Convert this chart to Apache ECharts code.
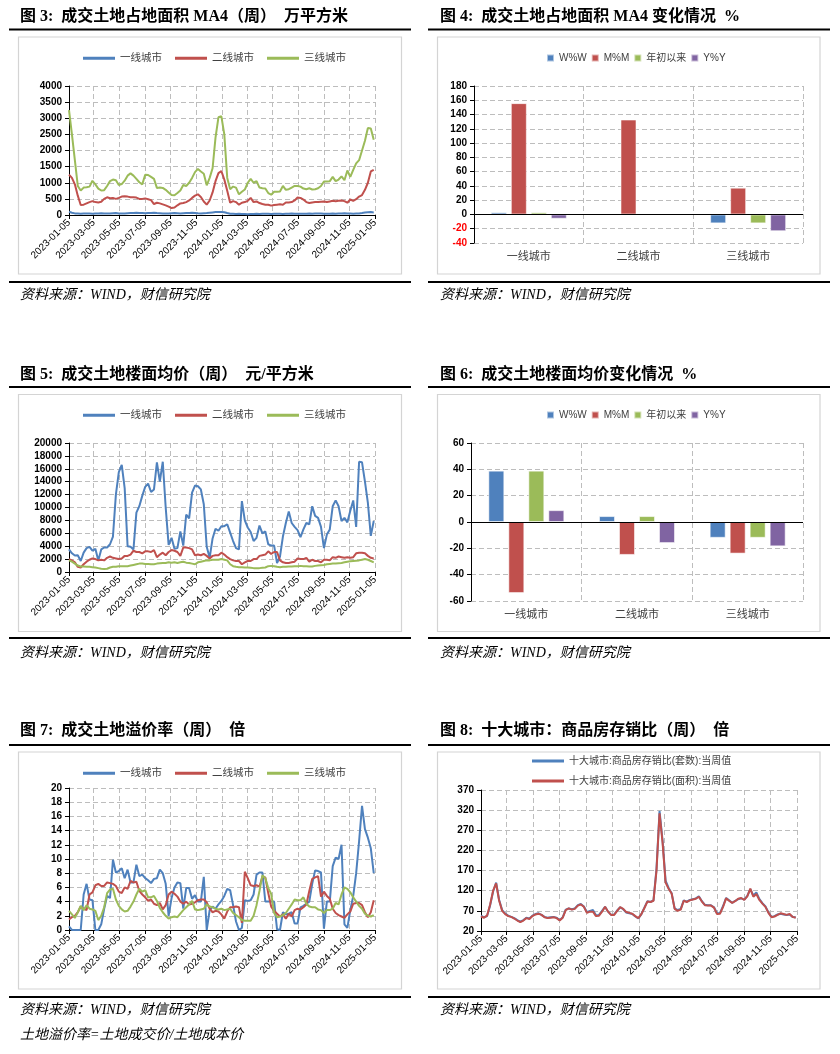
<!DOCTYPE html>
<html><head><meta charset="utf-8">
<script src="https://cdn.jsdelivr.net/npm/echarts@6/dist/echarts.min.js"></script>
<style>html,body{margin:0;padding:0;background:#fff}#c{width:840px;height:1054px}</style>
</head><body><div id="c"></div>
<script>
// ---------- data ----------
const tickDates = ['2023-01-05','2023-03-05','2023-05-05','2023-07-05','2023-09-05','2023-11-05','2024-01-05','2024-03-05','2024-05-05','2024-07-05','2024-09-05','2024-11-05','2025-01-05'];
const weekStart = '2023-01-05';
const cities = ['一线城市','二线城市','三线城市'];
const lineNames = ['一线城市','二线城市','三线城市'];
const barNames = ['W%W','M%M','年初以来','Y%Y'];
const stockNames = ['十大城市:商品房存销比(套数):当周值','十大城市:商品房存销比(面积):当周值'];

// Fig 3: land area MA4 (10k m2)
const area1 = [100,70,50,45,40,45,50,45,40,45, 50,55,50,45,50,55,60,50,45,50, 55,60,65,70,65,60,55,60,65,70, 60,55,50,45,50,55,60,55,50,55, 60,65,70,65,55,50,55,60,70,80, 90,95,95,85,60,40,35,30,35,30, 30,25,30,30,35,30,35,40,35,30, 35,40,35,30,35,40,45,40,35,40, 35,40,45,40,45,50,45,40,35,40, 45,40,45,50,55,50,45,40,45,50, 60,75,85,90,80];
const area2 = [1250,1150,950,600,310,320,360,400,430,400, 390,410,500,550,520,525,500,530,570,580, 570,550,550,540,500,500,515,490,460,340, 380,360,330,300,260,215,230,300,360,370, 400,450,530,600,640,560,420,320,450,700, 1050,1300,1360,1100,750,380,430,400,320,380, 400,440,530,400,420,370,340,320,320,290, 310,320,330,320,390,390,400,450,540,530, 480,400,370,390,400,400,410,420,400,420, 440,430,440,450,430,380,480,440,490,570, 620,780,1000,1350,1400];
const area3 = [3250,2500,1700,900,760,850,860,880,1060,950, 820,760,770,900,1050,1100,1080,930,960,1065, 1220,1290,1220,1120,1015,950,1250,1240,1180,1120, 840,850,840,780,700,620,610,680,760,930, 900,1000,1150,1330,1430,1350,1280,920,1150,1450, 2400,3030,3060,2500,1150,800,880,850,640,720, 790,1000,1120,1000,1050,850,830,820,680,630, 720,720,730,900,780,800,850,900,900,880, 820,800,830,790,800,830,900,1040,1040,1050, 1180,1050,1100,1200,1080,1380,1180,1400,1600,1700, 2000,2300,2700,2680,2330];

// Fig 4: area change (%)
const areaWoW = [3,-1.5,-12.5];
const areaMoM = [156,133,37.5];
const areaYTD = [3,-1.5,-12.5];
const areaYoY = [-6,1,-23.5];

// Fig 5: floor price (yuan/m2)
const price1 = [3500,2900,2550,2600,1700,3000,3700,3900,3300,3600, 1800,3500,3800,3800,4300,5500,12000,15500,16600,13000, 4000,3900,3500,9200,10200,11800,13200,13700,12400,12800, 17000,14000,17100,10000,4200,5300,3600,3700,6300,4100, 8900,8300,12300,13400,13300,12800,10500,3900,2200,5200, 6700,6400,7100,7100,7400,6100,4800,3700,3500,11000, 8000,6900,6200,4800,5300,7200,6000,6300,4300,4100, 4100,1400,2400,5500,7600,9400,7600,7000,6500,5400, 6600,7600,7400,10200,8700,8400,7000,3700,5800,6600, 10200,11100,10200,7900,8400,7700,9500,11100,7000,17100, 17000,14000,10700,5600,7900];
const price2 = [2000,1800,1500,800,700,1200,1600,1900,2100,2000, 1800,1900,1800,2200,2400,2200,2100,2000,2100,2500, 2500,2700,3300,3100,3100,2900,3200,3200,3100,3400, 2300,2700,3000,2600,3100,3400,3300,3100,2500,3800, 3800,3700,3500,2600,2700,2600,2800,2500,2100,2500, 2600,2600,3000,2700,2300,2000,1800,1700,1700,1200, 1500,1700,1700,2000,2000,2500,2600,2700,3200,2800, 3100,3100,1800,1500,1400,1400,1500,1600,2100,2000, 2000,2200,1600,1900,1700,1700,1500,1900,1900,1800, 2300,2200,2400,2300,2200,2300,2200,2300,2900,3000, 3000,2900,2500,2200,2100];
const price3 = [1800,1600,1300,1000,850,850,800,800,750,700, 600,500,450,500,700,800,800,900,900,900, 900,1000,1100,1200,1300,1300,1250,1250,1200,1200, 1300,1350,1400,1400,1500,1450,1500,1400,1500,1600, 1450,1400,1300,1200,1500,1600,1700,1800,1800,1900, 1900,1900,2000,1900,1800,1200,900,800,750,750, 700,700,650,600,600,600,650,700,900,950, 900,800,750,800,800,850,850,900,900,950, 900,900,850,850,950,1000,1050,1100,1200,1250, 1300,1300,1350,1400,1500,1600,1650,1700,1750,1800, 1900,2000,1900,1700,1500];

// Fig 6: price change (%)
const priceWoW = [39,4.5,-12];
const priceMoM = [-54,-25,-24];
const priceYTD = [39,4.5,-12];
const priceYoY = [9,-16,-18.5];

// Fig 7: premium rate
const prem1 = [0.5,0,0,0,0,5.0,6.5,4.3,4.2,0, 0,0.8,3.0,4.8,4.5,9.9,8.1,8.3,8.7,7.3, 8.5,6.7,6.7,9.2,7.6,7.8,7.3,7.0,6.6,7.2, 7.3,8.5,8.0,6.5,2.0,4.5,6.0,6.7,6.6,3.0, 5.9,5.9,4.4,4.9,4.0,4.0,7.5,0,2.8,3.3, 3.0,3.6,4.1,4.8,5.8,5.6,3.5,1.2,0,0.3, 4.2,4.1,4.2,5.0,7.8,8.1,8.1,4.0,4.0,4.0, 4.0,0.1,0,2.5,2.2,2.3,2.5,0.9,0.9,3.2, 3.4,3.7,4.0,6.5,8.4,8.3,8.1,0.2,4.0,4.0, 9.0,10.2,10.0,12.0,0.8,0.3,2.8,4.8,8.0,12.5, 17.5,14.2,13.0,11.5,8.0];
const prem2 = [1.5,1.8,2.0,2.5,3.3,3.0,2.8,5.0,5.3,6.3, 6.5,6.2,6.2,6.7,6.6,6.5,6.2,5.4,5.2,6.0, 5.8,6.9,6.7,6.8,5.5,5.0,4.6,4.1,4.3,3.7, 3.5,3.8,2.9,3.5,5.0,5.4,5.1,4.7,4.0,3.7, 4.0,3.6,3.7,3.9,4.2,4.3,4.3,3.9,3.0,2.5, 2.7,2.6,2.2,1.6,2.6,3.2,3.2,3.3,3.2,1.0, 8.2,7.3,6.3,6.2,6.3,6.1,7.5,7.4,5.2,3.3, 2.7,2.3,1.9,2.2,1.6,2.3,1.9,2.8,3.0,2.9, 3.2,3.6,5.5,7.2,7.4,7.6,4.7,5.4,4.8,4.4, 3.0,2.4,2.1,1.9,1.7,2.2,2.6,3.7,3.8,3.8, 3.5,2.5,1.8,2.5,4.2];
const prem3 = [2.7,2.2,1.7,2.5,3.4,2.8,3.5,3.0,2.9,2.7, 1.4,2.0,3.2,5.2,5.7,5.8,4.3,3.4,2.9,2.6, 2.7,3.3,4.0,5.0,5.8,5.4,5.6,4.6,4.6,4.8, 4.1,3.1,2.5,2.0,1.6,1.8,1.9,1.8,2.3,2.8, 3.2,3.6,4.1,2.9,2.8,2.9,3.0,3.6,3.3,3.2, 3.0,2.9,3.0,2.8,2.9,3.0,2.4,2.1,1.8,1.4, 1.3,1.3,1.3,2.0,3.5,5.5,7.7,7.3,5.9,5.1, 2.4,1.8,1.9,2.1,2.4,3.0,3.6,4.3,4.2,4.2, 4.6,3.7,3.3,3.2,3.2,2.9,2.8,2.4,2.8,2.8, 3.0,3.8,3.6,5.0,6.0,5.8,5.3,4.6,4.0,3.4, 3.0,2.3,2.0,1.9,2.1];

// Fig 8: inventory-to-sales ratio
const stockUnits = [58,54,57,83,118,140,97,72,63,58, 55,52,47,43,47,53,51,58,62,64, 60,55,53,54,55,53,47,54,73,76, 74,76,84,87,81,67,70,72,59,60, 70,80,68,60,61,71,79,74,66,64, 62,56,51,62,78,94,92,96,175,318, 245,145,127,114,76,72,75,96,93,97, 99,101,106,94,85,84,84,79,64,65, 82,102,96,90,95,99,101,98,107,124, 108,116,99,89,81,66,55,57,61,63, 61,60,61,55,54];
const stockArea = [56,53,58,85,120,138,95,70,62,57, 55,51,46,42,46,52,50,57,61,63, 60,54,52,53,54,52,46,53,72,76, 73,75,83,86,80,65,68,68,57,58, 68,80,68,60,60,70,79,75,67,65, 63,57,52,62,77,93,92,95,170,312, 240,140,125,113,75,70,73,95,92,96, 98,100,105,93,84,83,83,78,62,63, 80,101,95,90,94,100,102,97,106,125, 105,112,97,88,80,65,54,56,60,64, 62,60,62,55,53];

// ---------- helpers ----------
const BLUE='#4F81BD', RED='#C0504D', GREEN='#9BBB59', PURPLE='#8064A2';
const GRIDC='#BDBDBD';
function ts(s){const p=s.split('-').map(Number);return Date.UTC(p[0],p[1]-1,p[2]);}
const t0=ts(weekStart), WEEK=7*86400000;
function pairs(arr){return arr.map((v,i)=>[t0+i*WEEK,v]);}
const tickVals=tickDates.map(ts);
function pad(n){return (n<10?'0':'')+n;}
function fmtDate(v){const d=new Date(Number(v));return d.getUTCFullYear()+'-'+pad(d.getUTCMonth()+1)+'-'+pad(d.getUTCDate());}
const NUMFONT='"Liberation Sans", Arial, sans-serif';
const CJK='"Liberation Sans", "Noto Sans CJK SC", sans-serif';
const dash={color:GRIDC,type:[5,3],width:1};

function timeX(g){return {type:'value',gridIndex:g,min:tickVals[0],max:tickVals[tickVals.length-1],
  axisLine:{show:true,onZero:false,lineStyle:{color:'#000',width:1}},
  axisTick:{show:true,customValues:tickVals,length:4,lineStyle:{color:'#000'}},
  axisLabel:{customValues:tickVals,rotate:45,formatter:fmtDate,fontSize:10,color:'#000',margin:6,fontFamily:NUMFONT,hideOverlap:false},
  splitLine:{show:true,lineStyle:dash}};}
function valY(g,min,max,interval,colorFn){return {type:'value',gridIndex:g,min:min,max:max,interval:interval,
  axisLine:{show:true,lineStyle:{color:'#000',width:1}},
  axisTick:{show:true,length:4,lineStyle:{color:'#000'}},
  axisLabel:{fontSize:10,color:colorFn||'#000',fontWeight:'bold',fontFamily:NUMFONT,margin:7,formatter:v=>String(v)},
  splitLine:{show:true,lineStyle:dash}};}
function catX(g){return {type:'category',gridIndex:g,data:cities,
  axisLine:{show:false,onZero:false},axisTick:{show:false},
  axisLabel:{fontSize:11,color:'#404040',margin:8,fontFamily:CJK},
  splitLine:{show:true,lineStyle:dash}};}
function lineS(name,g,data,color){return {type:'line',name:name,xAxisIndex:g,yAxisIndex:g,data:pairs(data),
  showSymbol:false,symbol:'none',lineStyle:{width:2,color:color},itemStyle:{color:color}};}
function barS(name,g,data,color,withZero){const s={type:'bar',name:name,xAxisIndex:g,yAxisIndex:g,data:data,
  barWidth:16,barGap:'25%',itemStyle:{color:color,borderColor:'rgba(255,255,255,0.55)',borderWidth:1}};
  if(withZero){s.markLine={silent:true,symbol:['none','none'],label:{show:false},lineStyle:{color:'#000',type:'solid',width:1},data:[{yAxis:0}],animation:false};}
  return s;}
function lineLegend(top){return {left:83,top:top,padding:0,icon:'rect',itemWidth:32,itemHeight:3,itemGap:13,
  data:lineNames,textStyle:{fontSize:10.5,color:'#404040',fontFamily:CJK},selectedMode:false};}
function barLegend(top){return {left:546,top:top,padding:0,icon:'rect',itemWidth:7,itemHeight:7,itemGap:4,
  data:barNames,textStyle:{fontSize:10,color:'#404040',fontFamily:CJK},selectedMode:false};}

// ---------- page graphics ----------
const titleFont='bold 16px "Liberation Serif", "Noto Sans CJK SC", serif';
const srcFont='italic 14px "Liberation Serif", "Noto Sans CJK SC", serif';
const titles=[
  [20,17,'图 3:  成交土地占地面积 MA4（周）  万平方米'],
  [440,17,'图 4:  成交土地占地面积 MA4 变化情况  %'],
  [20,375,'图 5:  成交土地楼面均价（周）  元/平方米'],
  [440,375,'图 6:  成交土地楼面均价变化情况  %'],
  [20,731,'图 7:  成交土地溢价率（周）  倍'],
  [440,731,'图 8:  十大城市：商品房存销比（周）  倍']];
const sources=[[20,295],[440,295],[20,653],[440,653],[20,1010],[440,1010]];
const graphics=[];
titles.forEach(t=>graphics.push({type:'text',x:t[0],y:t[1],style:{text:t[2],font:titleFont,fill:'#000',textVerticalAlign:'middle'}}));
sources.forEach(s=>graphics.push({type:'text',x:s[0],y:s[1],style:{text:'资料来源：WIND，财信研究院',font:srcFont,fill:'#000',textVerticalAlign:'middle'}}));
graphics.push({type:'text',x:20,y:1035,style:{text:'土地溢价率=土地成交价/土地成本价',font:srcFont,fill:'#000',textVerticalAlign:'middle'}});
[[29.5,282],[387,638],[745,997]].forEach(r=>{
  [[9,411],[428,830]].forEach(c=>{
    graphics.push({type:'line',shape:{x1:c[0],y1:r[0],x2:c[1],y2:r[0]},style:{stroke:'#000',lineWidth:2}});
    graphics.push({type:'line',shape:{x1:c[0],y1:r[1],x2:c[1],y2:r[1]},style:{stroke:'#000',lineWidth:2}});
  });
});
[[37,237],[394.5,237],[752,237]].forEach(r=>{
  graphics.push({type:'rect',shape:{x:18.5,y:r[0],width:383,height:r[1]},style:{fill:'none',stroke:'#D4D4D4',lineWidth:1.2}});
  graphics.push({type:'rect',shape:{x:437.5,y:r[0],width:382.5,height:r[1]},style:{fill:'none',stroke:'#D4D4D4',lineWidth:1.2}});
});

const option={
  animation:false,
  backgroundColor:'#fff',
  graphic:graphics,
  grid:[
    {left:69,top:86,width:306,height:129,outerBoundsMode:'none'},
    {left:474,top:86,width:329,height:157,outerBoundsMode:'none'},
    {left:69,top:443,width:306,height:129,outerBoundsMode:'none'},
    {left:471,top:443,width:332,height:158,outerBoundsMode:'none'},
    {left:69,top:788,width:306,height:142,outerBoundsMode:'none'},
    {left:481,top:790,width:316,height:141,outerBoundsMode:'none'}],
  xAxis:[timeX(0),catX(1),timeX(2),catX(3),timeX(4),timeX(5)],
  yAxis:[
    valY(0,0,4000,500),
    valY(1,-40,180,20,v=>Number(v)<0?'#FF0000':'#000'),
    valY(2,0,20000,2000),
    valY(3,-60,60,20),
    valY(4,0,20,2),
    valY(5,20,370,50)],
  legend:[
    lineLegend(53), barLegend(53), lineLegend(410), barLegend(410), lineLegend(768),
    {left:532,top:756,padding:0,orient:'vertical',icon:'rect',itemWidth:32,itemHeight:3,itemGap:10,data:stockNames,
     textStyle:{fontSize:10,color:'#404040',fontFamily:CJK},selectedMode:false}],
  series:[
    lineS(lineNames[0],0,area1,BLUE), lineS(lineNames[1],0,area2,RED), lineS(lineNames[2],0,area3,GREEN),
    barS(barNames[0],1,areaWoW,BLUE,true), barS(barNames[1],1,areaMoM,RED), barS(barNames[2],1,areaYTD,GREEN), barS(barNames[3],1,areaYoY,PURPLE),
    lineS(lineNames[0],2,price1,BLUE), lineS(lineNames[1],2,price2,RED), lineS(lineNames[2],2,price3,GREEN),
    barS(barNames[0],3,priceWoW,BLUE,true), barS(barNames[1],3,priceMoM,RED), barS(barNames[2],3,priceYTD,GREEN), barS(barNames[3],3,priceYoY,PURPLE),
    lineS(lineNames[0],4,prem1,BLUE), lineS(lineNames[1],4,prem2,RED), lineS(lineNames[2],4,prem3,GREEN),
    lineS(stockNames[0],5,stockUnits,BLUE), lineS(stockNames[1],5,stockArea,RED)]
};
const chart=echarts.init(document.getElementById('c'),null,{renderer:'canvas'});
chart.setOption(option);
</script></body></html>
